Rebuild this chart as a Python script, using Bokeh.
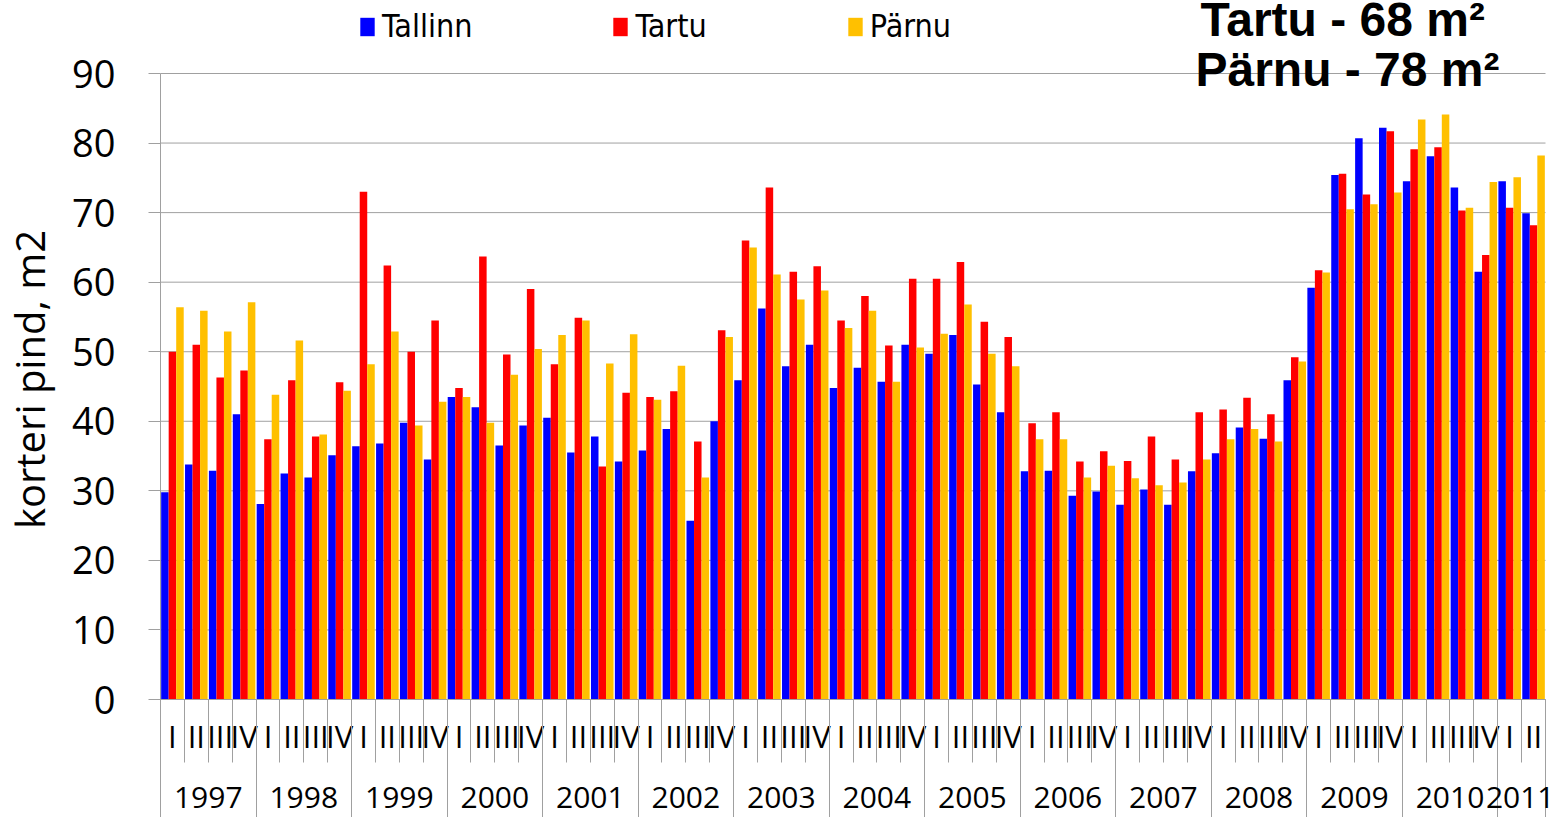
import math
from bokeh.plotting import figure
from bokeh.models import (FixedTicker, LinearAxis, Range1d, Legend, LegendItem,
                          Label, ColumnDataSource)
from bokeh.transform import dodge
from bokeh.embed import file_html
from bokeh.resources import INLINE

# ---------------- data ----------------
years = ["1997", "1998", "1999", "2000", "2001", "2002", "2003", "2004",
         "2005", "2006", "2007", "2008", "2009", "2010", "2011"]
quarters_per_year = [4, 4, 4, 4, 4, 4, 4, 4, 4, 4, 4, 4, 4, 4, 2]
quarter_names = ["I", "II", "III", "IV"]

tallinn = [29.8, 33.8, 32.9, 41.0, 28.1, 32.5, 31.9, 35.1, 36.4, 36.8, 39.8, 34.5,
           43.5, 42.0, 36.5, 39.4, 40.5, 35.5, 37.8, 34.2, 35.8, 38.9, 25.7, 40.0,
           45.9, 56.2, 47.9, 51.0, 44.8, 47.7, 45.7, 51.0, 49.7, 52.4, 45.3, 41.3,
           32.8, 32.9, 29.3, 29.9, 28.0, 30.2, 28.0, 32.8, 35.4, 39.1, 37.5, 45.9,
           59.2, 75.4, 80.7, 82.2, 74.5, 78.1, 73.6, 61.5, 74.5, 69.9]
tartu = [50.0, 51.0, 46.3, 47.3, 37.4, 45.9, 37.8, 45.6, 73.0, 62.4, 50.0, 54.5,
         44.8, 63.7, 49.6, 59.0, 48.2, 54.9, 33.5, 44.1, 43.5, 44.3, 37.1, 53.1,
         66.0, 73.6, 61.5, 62.3, 54.5, 58.0, 50.9, 60.5, 60.5, 62.9, 54.3, 52.1,
         39.7, 41.3, 34.2, 35.7, 34.3, 37.8, 34.5, 41.3, 41.7, 43.4, 41.0, 49.2,
         61.7, 75.6, 72.6, 81.7, 79.1, 79.4, 70.3, 63.9, 70.7, 68.2]
parnu = [56.4, 55.9, 52.9, 57.1, 43.8, 51.6, 38.1, 44.4, 48.2, 52.9, 39.4, 42.8,
         43.5, 39.8, 46.7, 50.4, 52.4, 54.5, 48.3, 52.5, 43.1, 48.0, 31.9, 52.1,
         65.0, 61.1, 57.5, 58.8, 53.4, 55.9, 45.7, 50.6, 52.6, 56.8, 49.7, 47.9,
         37.4, 37.4, 31.9, 33.6, 31.8, 30.8, 31.2, 34.5, 37.4, 38.9, 37.1, 48.6,
         61.4, 70.5, 71.2, 72.9, 83.4, 84.1, 70.7, 74.4, 75.1, 78.2]

series_names = ["Tallinn", "Tartu", "Pärnu"]
series_colors = ["#0000FF", "#FF0000", "#FFC000"]
y_ticks = [0, 10, 20, 30, 40, 50, 60, 70, 80, 90]
note_lines = ["Tartu - 68 m²", "Pärnu - 78 m²"]
y_title = "korteri pind, m2"

# ---------------- derived positions ----------------
quarter_labels = []
for y, nq in zip(years, quarters_per_year):
    quarter_labels += quarter_names[:nq]
n = len(quarter_labels)
xc = [i + 0.5 for i in range(n)]

year_bounds = [0]
for nq in quarters_per_year:
    year_bounds.append(year_bounds[-1] + nq)
year_centers = [(a + b) / 2 for a, b in zip(year_bounds[:-1], year_bounds[1:])]

src = ColumnDataSource(dict(x=xc, tallinn=tallinn, tartu=tartu, parnu=parnu))

FONT = "Open Sans"
GRAY = "#a0a0a0"
W, H = 1554, 817
PLOT_LEFT = 160      # canvas x of the y axis (x = 0)
PLOT_RIGHT = 1545    # canvas x of the end of the last quarter
ZERO_PX = 699        # canvas y of value 0
TOP_PX = 73          # canvas y of value 90
ppy = (ZERO_PX - TOP_PX) / 90.0
ppx = (PLOT_RIGHT - PLOT_LEFT) / n
y_hi = 90 + TOP_PX / ppy
y_lo = -(H - ZERO_PX) / ppy
x_lo = -PLOT_LEFT / ppx
x_hi = n + (W - PLOT_RIGHT) / ppx

p = figure(width=W, height=H, output_backend="svg", toolbar_location=None,
           x_range=Range1d(x_lo, x_hi), y_range=Range1d(y_lo, y_hi),
           min_border_left=0, min_border_right=0,
           min_border_top=0, min_border_bottom=0)
p.outline_line_color = None
p.background_fill_color = "white"
p.border_fill_color = "white"

# horizontal grid lines limited to the plot area (0 .. n)
p.xgrid.visible = False
p.ygrid.visible = False
p.segment(x0=[0] * len(y_ticks), x1=[n] * len(y_ticks), y0=y_ticks, y1=y_ticks,
          line_color=GRAY, line_width=1)

bw = 0.315
renderers = []
for k, (col, color) in enumerate(zip(["tallinn", "tartu", "parnu"], series_colors)):
    r = p.vbar(x=dodge("x", (k - 1) * bw, range=p.x_range), top=col, width=bw,
               bottom=0, source=src, fill_color=color, line_color=None)
    renderers.append(r)

# y axis (drawn at x = 0 inside the frame)
ya = p.yaxis[0]
ya.ticker = FixedTicker(ticks=y_ticks)
ya.fixed_location = 0
ya.bounds = (0, 90)
ya.axis_line_color = GRAY
ya.major_tick_line_color = GRAY
ya.major_tick_out = 12
ya.major_tick_in = 0
ya.minor_tick_line_color = None
ya.major_label_standoff = 33
ya.major_label_text_font = FONT
ya.major_label_text_font_size = "38px"
ya.major_label_text_color = "black"

# y axis title
p.add_layout(Label(x=(29 - PLOT_LEFT) / ppx, y=(ZERO_PX - 379) / ppy, text=y_title,
                   angle=math.pi / 2, text_align="center", text_baseline="middle",
                   text_font=FONT, text_font_size="40px", text_color="black"))


def make_axis(axis, ticks, labels, tick_len, standoff, font_size, line_color):
    axis.ticker = FixedTicker(ticks=ticks)
    axis.fixed_location = 0
    axis.major_label_overrides = {x: lab for x, lab in zip(ticks, labels)}
    axis.axis_line_color = line_color
    axis.major_tick_line_color = GRAY if tick_len > 0 else None
    axis.major_tick_out = tick_len
    axis.major_tick_in = 0
    axis.minor_tick_line_color = None
    axis.major_label_standoff = standoff
    axis.major_label_text_font = FONT
    axis.major_label_text_font_size = font_size
    axis.major_label_text_color = "black" if labels[0] else None
    return axis


quarter_bounds = list(range(n + 1))
# quarter separators (the default x axis)
xa = make_axis(p.xaxis[0], quarter_bounds, [""] * len(quarter_bounds), 63, 0, "10px", GRAY)
xa.bounds = (0, n)
# quarter labels
p.add_layout(make_axis(LinearAxis(), xc, quarter_labels, 0, 15, "31px", None), "below")
# year separators
p.add_layout(make_axis(LinearAxis(), year_bounds, [""] * len(year_bounds), 130, 0, "10px", None), "below")
# year labels
p.add_layout(make_axis(LinearAxis(), year_centers, years, 0, 87, "30px", None), "below")

# legend (location measured from the frame's bottom-left corner)
legend = Legend(items=[LegendItem(label=nm, renderers=[r]) for nm, r in zip(series_names, renderers)],
                orientation="horizontal", location=(358, 772),
                padding=0, margin=0, spacing=139, border_line_color=None,
                background_fill_alpha=0, glyph_width=18, glyph_height=23,
                label_standoff=6, label_text_font="DejaVu Sans Condensed",
                label_text_font_size="32px", label_text_color="black")
p.add_layout(legend)

# notes
note_x = [43.55, 43.34]
note_y = [97.8, 90.6]
for t, x, yv in zip(note_lines, note_x, note_y):
    p.add_layout(Label(x=x, y=yv, text=t, text_font="Liberation Sans",
                       text_font_size="48px", text_font_style="bold",
                       text_baseline="middle", text_color="black"))

open("out.html", "w").write(file_html(p, INLINE))
